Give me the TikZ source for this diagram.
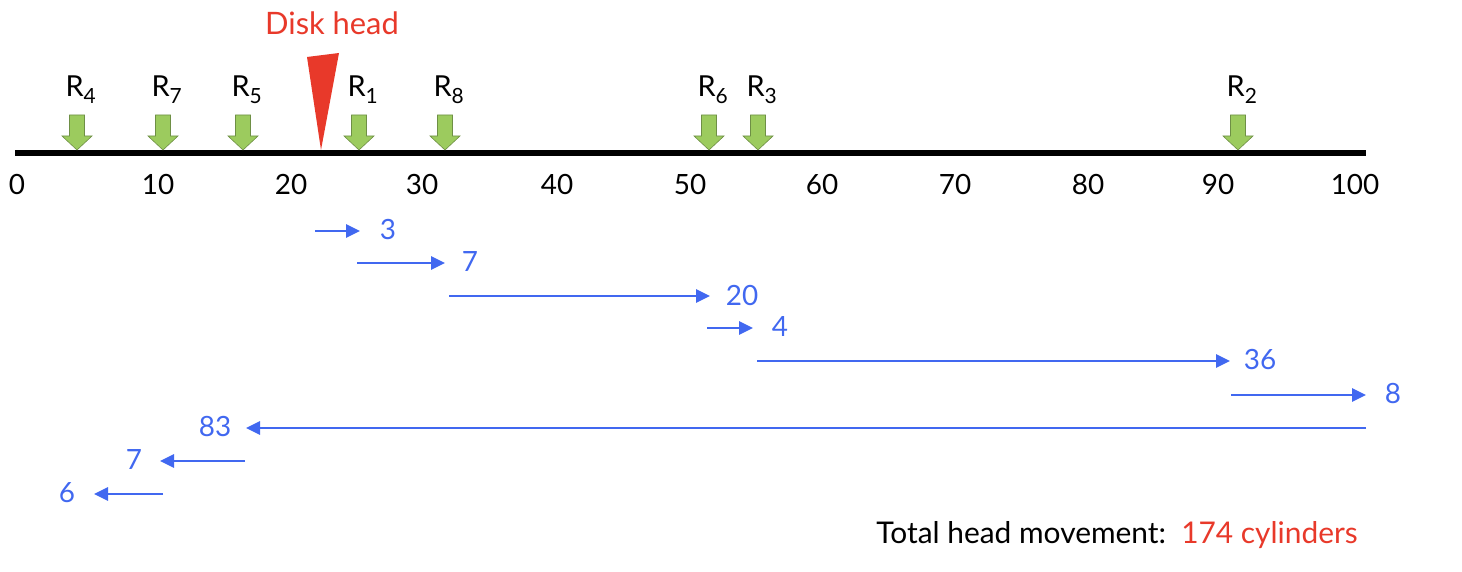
\documentclass[tikz,border=0pt]{standalone}
\usepackage{fontspec}
\setmainfont{Lato}
\usetikzlibrary{arrows.meta}
\definecolor{headred}{HTML}{E8392A}
\definecolor{moveblue}{HTML}{4168F0}
\definecolor{reqgreen}{HTML}{9CCB5E}
\definecolor{reqedge}{HTML}{6E8F45}
\tikzset{
  ticklabel/.style={font=\fontsize{28}{30}\selectfont, anchor=base},
  reqlabel/.style={font=\fontsize{29}{30}\selectfont, anchor=base},
  movelabel/.style={font=\fontsize{28}{30}\selectfont, text=moveblue, anchor=center, inner sep=0pt},
  movearrow/.style={draw=moveblue, line width=2.6bp, -{Triangle[length=14bp,width=13bp]}},
  pics/reqarrow/.style={code={
    \filldraw[fill=reqgreen, draw=reqedge, line width=0.6bp]
      (-7.5,-35) -- (7.5,-35) -- (7.5,-14) -- (15,-14) -- (0,0) -- (-15,-14) -- (-7.5,-14) -- cycle;
  }}
}
\begin{document}
\begin{tikzpicture}[x=1bp,y=-1bp]
\useasboundingbox (0,0) rectangle (1462,572);

% axis
\coordinate (axisL) at (15,153);
\coordinate (axisR) at (1366,153);
\draw[line width=6bp] (axisL) -- (axisR);

% tick labels
\foreach \v/\x in {0/17,10/158,20/291,30/422,40/557,50/690,60/822,70/955,80/1088,90/1218,100/1355}{
  \node[ticklabel] (t\v) at (\x,195) {\v};
}

% request arrows and labels
\foreach \r/\x in {4/77,7/163,5/243,1/359,8/445,6/709,3/758,2/1238}{
  \pic at (\x,150) {reqarrow};
  \node[reqlabel] (R\r) at (\x+4,97) {R$_{\mbox{\fontsize{21}{22}\selectfont\r}}$};
}

% disk head
\fill[headred] (307,57) -- (339,53) -- (321,150) -- cycle;
\node[font=\fontsize{31}{32}\selectfont, text=headred, anchor=base] (diskhead) at (332,35) {Disk head};

% movement arrows
\coordinate (m1s) at (315,231); \coordinate (m1e) at (360,231);
\coordinate (m2s) at (357,263); \coordinate (m2e) at (445,263);
\coordinate (m3s) at (449,296); \coordinate (m3e) at (710,296);
\coordinate (m4s) at (707,328); \coordinate (m4e) at (753,328);
\coordinate (m5s) at (757,361); \coordinate (m5e) at (1230,361);
\coordinate (m6s) at (1231,395); \coordinate (m6e) at (1366,395);
\coordinate (m7s) at (1366,428); \coordinate (m7e) at (246,428);
\coordinate (m8s) at (245,461); \coordinate (m8e) at (160,461);
\coordinate (m9s) at (163,494); \coordinate (m9e) at (94,494);
\foreach \i in {1,...,9}{ \draw[movearrow] (m\i s) -- (m\i e); }

\node[movelabel] (d1) at (388,230) {3};
\node[movelabel] (d2) at (470,262) {7};
\node[movelabel] (d3) at (742,295) {20};
\node[movelabel] (d4) at (780,327) {4};
\node[movelabel] (d5) at (1260,360) {36};
\node[movelabel] (d6) at (1393,394) {8};
\node[movelabel] (d7) at (215,427) {83};
\node[movelabel] (d8) at (134,460) {7};
\node[movelabel] (d9) at (67,493) {6};

% total
\node[font=\fontsize{30}{32}\selectfont, anchor=base east, inner sep=0pt] (total) at (1358,543)
  {Total head movement:\ \ \textcolor{headred}{174 cylinders}};
\end{tikzpicture}
\end{document}
